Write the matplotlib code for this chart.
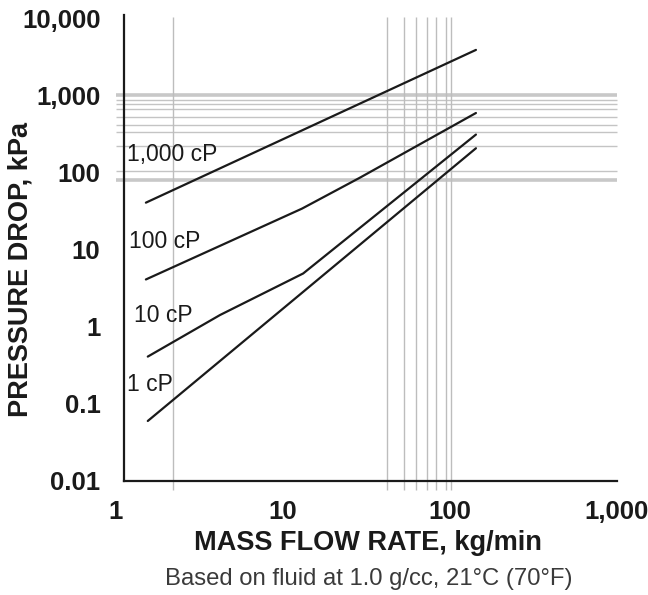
import matplotlib
matplotlib.use("Agg")
import matplotlib.pyplot as plt
from matplotlib.ticker import FixedLocator, NullLocator

plt.rcParams['font.family'] = ['Liberation Sans', 'DejaVu Sans']

# curves (kg/min, kPa)
flow_1000 = [1.51, 143]
drop_1000 = [40.6, 3880]
flow_100 = [1.51, 4.2, 13, 29, 143]
drop_100 = [4.1, 11.2, 34, 86, 590]
flow_10 = [1.55, 4.2, 13.2, 143]
drop_10 = [0.41, 1.42, 4.9, 310]
flow_1 = [1.55, 143]
drop_1 = [0.060, 206]

curve_labels = ["1,000 cP", "100 cP", "10 cP", "1 cP"]
label_pos = [(1.17, 171), (1.2, 12.6), (1.29, 1.4), (1.16, 0.18)]

# background rules of the scanned sheet
h_rules = [1000, 880, 770, 670, 520, 410, 330, 220, 105, 80]
h_thick = [1000, 80]
v_rules = [2.2, 42, 53, 63, 73, 82, 95, 102]

x_ticks = [1, 10, 100, 1000]
x_ticklabels = ["1", "10", "100", "1,000"]
y_ticks = [0.01, 0.1, 1, 10, 100, 1000, 10000]
y_ticklabels = ["0.01", "0.1", "1", "10", "100", "1,000", "10,000"]

fig = plt.figure(figsize=(6.48, 5.95), dpi=100)
ax = fig.add_axes([116 / 648, 114 / 595, 501 / 648, 466 / 595])
ax.set_xscale('log')
ax.set_yscale('log')
ax.set_xlim(1, 1000)
ax.set_ylim(0.01, 1.1e4)

thin = [v for v in h_rules if v not in h_thick]
ax.hlines(thin, 1, 1000, color='#c4c4c4', lw=1.0, zorder=1, clip_on=False)
ax.hlines(h_thick, 1, 1000, color='#c8c8c8', lw=2.6, zorder=1, clip_on=False)
ax.vlines(v_rules, 0.0076, 1.05e4, color='#bdbdbd', lw=1.0, zorder=1, clip_on=False)

for fx, dy in [(flow_1000, drop_1000), (flow_100, drop_100),
               (flow_10, drop_10), (flow_1, drop_1)]:
    ax.plot(fx, dy, color='#1a1a1a', lw=1.6, solid_capstyle='round', zorder=3)

for txt, (tx, ty) in zip(curve_labels, label_pos):
    ax.text(tx, ty, txt, fontsize=16.5, color='#1a1a1a', ha='left', va='center', zorder=4)

for side in ['top', 'right']:
    ax.spines[side].set_visible(False)
ax.spines['left'].set_position(('data', 1.117))
ax.spines['bottom'].set_bounds(1.117, 1000)
for side in ['left', 'bottom']:
    ax.spines[side].set_linewidth(1.6)
    ax.spines[side].set_color('#1a1a1a')

ax.xaxis.set_major_locator(FixedLocator(x_ticks))
ax.xaxis.set_minor_locator(NullLocator())
ax.set_xticklabels(x_ticklabels)
ax.yaxis.set_major_locator(FixedLocator(y_ticks))
ax.yaxis.set_minor_locator(NullLocator())
ax.set_yticklabels(y_ticklabels)
ax.tick_params(axis='both', length=0, labelsize=18.5, colors='#1a1a1a')
ax.tick_params(axis='y', pad=17)
ax.tick_params(axis='x', pad=14)
for lab in ax.get_xticklabels() + ax.get_yticklabels():
    lab.set_fontweight('bold')

ax.set_xlabel("MASS FLOW RATE, kg/min", fontsize=19.5, fontweight='bold', color='#1a1a1a')
ax.xaxis.set_label_coords(0.502, -0.106)
ax.set_ylabel("PRESSURE DROP, kPa", fontsize=19.5, fontweight='bold', color='#1a1a1a')
ax.yaxis.set_label_coords(-0.164, 0.453)
ax.text(0.505, -0.223, "Based on fluid at 1.0 g/cc, 21°C (70°F)", transform=ax.transAxes,
        fontsize=17.2, color='#3a3a3a', ha='center', va='baseline')

fig.savefig("out.png", dpi=100)
